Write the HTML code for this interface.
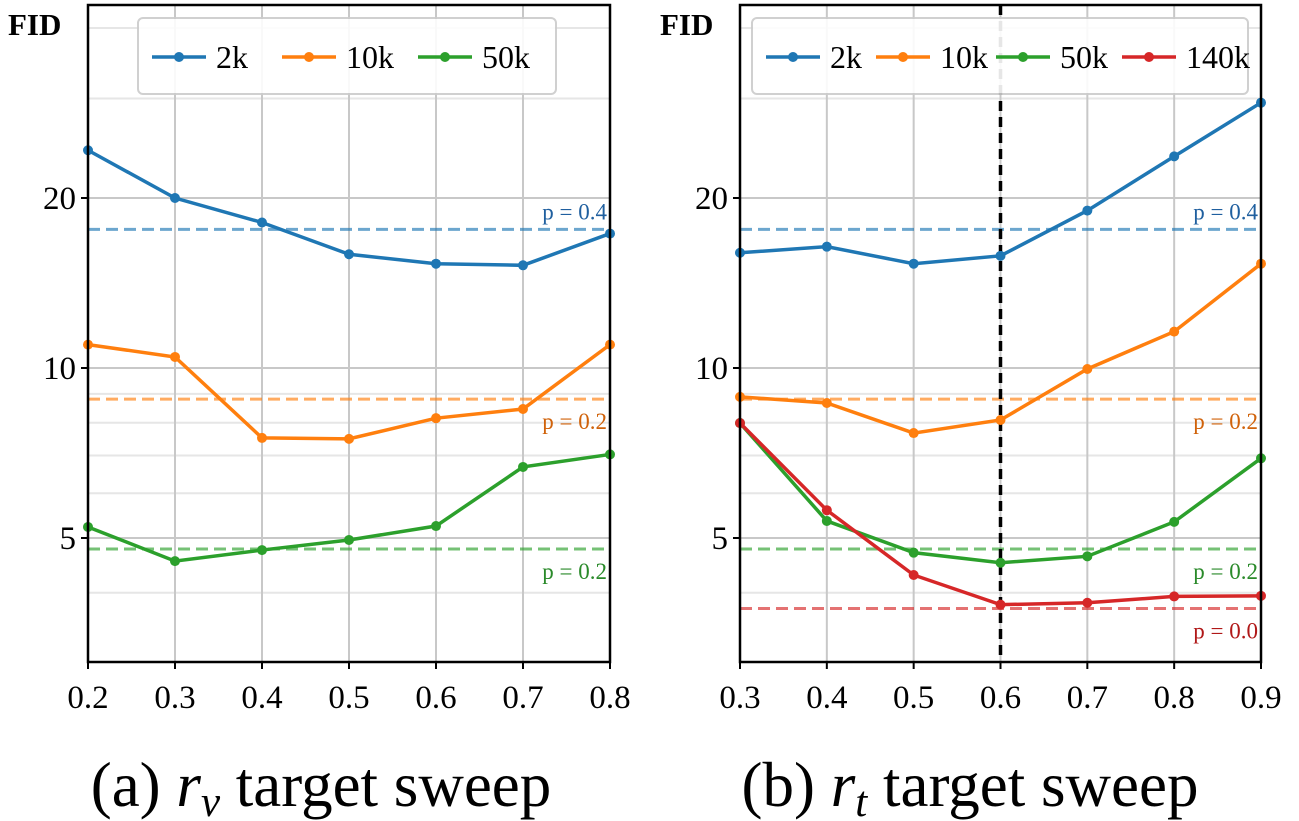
<!DOCTYPE html>
<html><head><meta charset="utf-8"><style>
html,body{margin:0;padding:0;background:#fff;}
svg{display:block;font-family:"Liberation Serif",serif;}
</style></head><body>
<svg id="c" width="1299" height="821" viewBox="0 0 1299 821"></svg>
<script>
const yTicks=[5,10,20];
const minorTicks=[3,4,6,7,8,9,30,40];
const xA=[0.2,0.3,0.4,0.5,0.6,0.7,0.8];
const xB=[0.3,0.4,0.5,0.6,0.7,0.8,0.9];
const a2k=[24.3,20,18.1,15.9,15.3,15.2,17.3];
const a10k=[11.0,10.46,7.52,7.49,8.15,8.46,11.0];
const a50k=[5.23,4.55,4.76,4.96,5.25,6.68,7.03];
const b2k=[16.0,16.4,15.3,15.8,19.0,23.7,29.5];
const b10k=[8.89,8.67,7.67,8.09,9.96,11.6,15.3];
const b50k=[7.99,5.36,4.71,4.52,4.64,5.34,6.92];
const b140k=[7.99,5.6,4.3,3.81,3.84,3.94,3.95];
const refA=[17.6,8.81,4.78];
const refB=[17.6,8.81,4.78,3.75];
const refLabels=['p = 0.4','p = 0.2','p = 0.2','p = 0.0'];
const vline=0.6;
const C={b:'#1f77b4',o:'#ff7f0e',g:'#2ca02c',r:'#d62728'};
const NS='http://www.w3.org/2000/svg';
const svgRoot=document.getElementById('c');
function el(t,a,p){const e=document.createElementNS(NS,t);for(const k in a)e.setAttribute(k,a[k]);(p||svgRoot).appendChild(e);return e;}
const yTop=5,yBot=662;
function yS(v){return 368-170*Math.log2(v/10);}
function panel(name,x0,x1,xs,series,refs,refCols,title,sub,legend,vl,tcx){
  const g=el('g',{});
  
  
  const xmin=xs[0],xmax=xs[xs.length-1];
  const xS=v=>x0+(v-xmin)/(xmax-xmin)*(x1-x0);
  minorTicks.forEach(v=>{const y=yS(v);if(y>yTop&&y<yBot){const l=el('line',{x1:x0,x2:x1,y1:y,y2:y,stroke:'#e6e6e6','stroke-width':2},g);
    
    }});
  yTicks.forEach(v=>{const y=yS(v);const l=el('line',{x1:x0,x2:x1,y1:y,y2:y,stroke:'#c8c8c8','stroke-width':2},g);
    
    
    el('line',{x1:x0-7,x2:x0,y1:y,y2:y,stroke:'#000','stroke-width':2},g);
    const t=el('text',{x:x0-12,y:y+11,'text-anchor':'end','font-size':33},g);t.textContent=v;
    
    });
  xs.forEach(v=>{const x=xS(v);const l=el('line',{x1:x,x2:x,y1:yTop,y2:yBot,stroke:'#c8c8c8','stroke-width':2},g);
    
    
    el('line',{x1:x,x2:x,y1:yBot,y2:yBot+7,stroke:'#000','stroke-width':2},g);
    const t=el('text',{x:x,y:yBot+46,'text-anchor':'middle','font-size':33},g);t.textContent=v.toFixed(1);
    
    });
  refs.forEach((v,i)=>{const y=yS(v);const l=el('line',{x1:x0,x2:x1,y1:y,y2:y,stroke:refCols[i],'stroke-width':3,'stroke-dasharray':'12,6',opacity:0.65},g);
    
    
    const above=(i==0);
    const col=refCols[i]==C.r?'#b01818':refCols[i]==C.o?'#d0620a':refCols[i]==C.g?'#2a8a2a':'#1f5f9f';
    const t=el('text',{x:x1-3,y:above?y-10:y+30,'text-anchor':'end','font-size':23,fill:col},g);t.textContent=refLabels[i];
    
    });
  if(vl!=null){const x=xS(vl);const l=el('line',{x1:x,x2:x,y1:yTop,y2:yBot,stroke:'#000','stroke-width':3.5,'stroke-dasharray':'10,6'},g);
    
    }
  series.forEach(s=>{const pts=s.v.map((v,i)=>xS(xs[i])+','+yS(v)).join(' ');
    const p=el('polyline',{points:pts,fill:'none',stroke:s.c,'stroke-width':3.5},g);
    
    
    s.v.forEach((v,i)=>{const c=el('circle',{cx:xS(xs[i]),cy:yS(v),r:5,fill:s.c},g);
      
      });});
  const fr=el('rect',{x:x0,y:yTop,width:x1-x0,height:yBot-yTop,fill:'none',stroke:'#000','stroke-width':2.5},g);
  
  
  const f=el('text',{x:x0-80,y:35,'font-size':31,'font-weight':'bold'},g);f.textContent='FID';
  
  
  const lg=el('g',{},g);
  
  
  el('rect',{x:legend.x,y:18,width:legend.w,height:76,rx:5,fill:'#fff',stroke:'#ccc','stroke-width':2,opacity:0.9},lg);
  series.forEach((s,i)=>{const lx=legend.x+14+legend.step[i];
    el('line',{x1:lx,x2:lx+54,y1:57,y2:57,stroke:s.c,'stroke-width':3.5},lg);el('circle',{cx:lx+27,cy:57,r:5,fill:s.c},lg);
    const t=el('text',{x:lx+64,y:68,'font-size':32},lg);t.textContent=s.n;
    
    });
  const tt=el('text',{x:tcx,y:806,'text-anchor':'middle','font-size':63},g);
  
  
  tt.innerHTML=title+' <tspan font-style="italic">r</tspan><tspan font-style="italic" font-size="43" dy="10">'+sub+'</tspan><tspan dy="-10"> target sweep</tspan>';
}
panel('panel-a',88,610,xA,[{n:'2k',v:a2k,c:C.b},{n:'10k',v:a10k,c:C.o},{n:'50k',v:a50k,c:C.g}],refA,[C.b,C.o,C.g],'(a)','v',{x:138,w:418,step:[0,130,266]},null,321);
panel('panel-b',740,1261,xB,[{n:'2k',v:b2k,c:C.b},{n:'10k',v:b10k,c:C.o},{n:'50k',v:b50k,c:C.g},{n:'140k',v:b140k,c:C.r}],refB,[C.b,C.o,C.g,C.r],'(b)','t',{x:752,w:496,step:[0,110,230,356]},vline,970);
</script>
</body></html>
